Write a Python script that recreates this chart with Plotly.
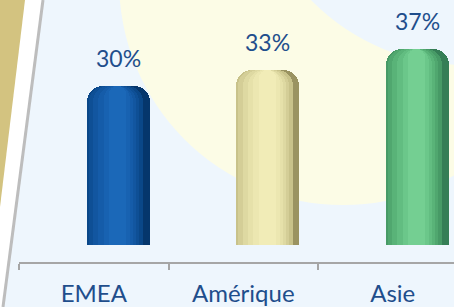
import plotly.graph_objects as go

# ---- data ----
categories = ["EMEA", "Amérique", "Asie"]
values = [30, 33, 37]
value_labels = ["30%", "33%", "37%"]

# shading layers for cylinder look (colour per category per layer)
layer_colors = [
    ["#05366C", "#9A9361", "#357E56"],   # full width (right dark edge)
    ["#0A4788", "#C8C28A", "#479A66"],
    ["#0E4F95", "#D4CE97", "#50A76F"],
    ["#1256A0", "#DED9A2", "#59B378"],
    ["#155CA9", "#E6E1AA", "#62BD81"],
    ["#1862B1", "#ECE7B1", "#6BC78A"],
    ["#1B68B8", "#F1ECB7", "#74CF92"],
]
layer_spans = [(0.0, 1.0), (0.0, 0.9), (0.03, 0.84), (0.1, 0.79),
               (0.18, 0.74), (0.27, 0.69), (0.36, 0.63)]

W = 0.42        # bar width in category units
OFF = -0.047    # bar start relative to category centre

W_PX, H_PX = 454, 307
ML, MT, MB = 19, 0, 45
PW, PH = W_PX - ML, H_PX - MT - MB


def px2paper(x, y):
    return (x - ML) / PW, (H_PX - MB - y) / PH


fig = go.Figure()
for (s, e), cols in zip(layer_spans, layer_colors):
    fig.add_trace(go.Bar(
        x=categories, y=values,
        offset=OFF + s * W, width=(e - s) * W,
        marker=dict(color=cols, line=dict(width=0), cornerradius=16),
        hoverinfo="skip", showlegend=False,
    ))

for i, (v, t) in enumerate(zip(values, value_labels)):
    fig.add_annotation(
        x=i + OFF + W / 2, y=v, xref="x", yref="y",
        text=t, showarrow=False, yanchor="middle", yshift=28,
        font=dict(family="Lato", size=23, color="#1F4E8C"),
    )

shapes = []
# big pale yellow circle
cx, cy, r = 343, -19, 224
x0, y1 = px2paper(cx - r, cy - r)
x1, y0 = px2paper(cx + r, cy + r)
shapes.append(dict(type="circle", xref="paper", yref="paper", x0=x0, x1=x1, y0=y0, y1=y1,
                   fillcolor="#FCFCE6", line=dict(width=0), layer="below"))
# pale blue circle top-right
cx, cy, r = 465, -150, 215
x0, y1 = px2paper(cx - r, cy - r)
x1, y0 = px2paper(cx + r, cy + r)
shapes.append(dict(type="circle", xref="paper", yref="paper", x0=x0, x1=x1, y0=y0, y1=y1,
                   fillcolor="#EEF6FD", line=dict(width=0), layer="below"))


def path(points):
    pts = [px2paper(x, y) for x, y in points]
    return "M " + " L ".join(f"{a:.4f},{b:.4f}" for a, b in pts) + " Z"


# white band on the left
shapes.append(dict(type="path", xref="paper", yref="paper",
                   path=path([(0, 0), (43, 0), (3, 307), (0, 307)]),
                   fillcolor="#FFFFFF", line=dict(width=0), layer="below"))
# gold wedge
shapes.append(dict(type="path", xref="paper", yref="paper",
                   path=path([(0, 0), (25, 0), (0, 207)]),
                   fillcolor="#D3C380", line=dict(width=0), layer="below"))
# grey slanted line
ax0, ay0 = px2paper(43, 0)
ax1, ay1 = px2paper(3, 307)
shapes.append(dict(type="line", xref="paper", yref="paper", x0=ax0, y0=ay0, x1=ax1, y1=ay1,
                   line=dict(color="#BDBDBD", width=3), layer="below"))

fig.update_layout(
    width=W_PX, height=H_PX,
    margin=dict(l=ML, r=0, t=MT, b=MB, pad=0),
    paper_bgcolor="#EEF6FD", plot_bgcolor="rgba(0,0,0,0)",
    barmode="overlay", bargap=0,
    shapes=shapes,
    xaxis=dict(
        type="category", range=[-0.5, -0.5 + PW / 149.5],
        showgrid=False, zeroline=False,
        showline=True, linecolor="#A6A6A6", linewidth=2,
        ticks="outside", tickson="boundaries", ticklen=6, tickwidth=2, tickcolor="#A6A6A6",
        tickfont=dict(family="Lato", size=24, color="#1F4E8C"),
        ticklabelstandoff=9,
    ),
    yaxis=dict(range=[-3.2, -3.2 + PH / 5.3], visible=False, showgrid=False, zeroline=False),
)

fig.write_html(
    "out.html",
    config={"displayModeBar": False},
    post_script="document.body.style.margin='0';document.body.style.padding='0';"
                "document.body.style.overflow='hidden';",
)
